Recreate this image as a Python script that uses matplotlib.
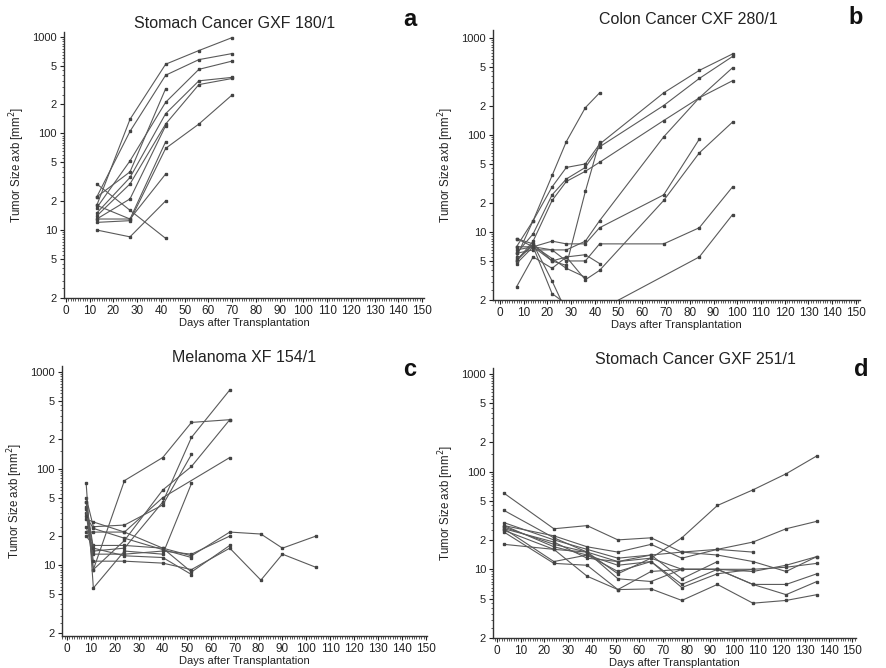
import numpy as np
import matplotlib
matplotlib.use("Agg")
import matplotlib.pyplot as plt
from matplotlib.ticker import FixedLocator, MultipleLocator, LogLocator, NullFormatter

plt.rcParams['font.family'] = ['Liberation Sans', 'DejaVu Sans']

nan = np.nan

# panel a: Stomach Cancer GXF 180/1
a_days = [13, 27, 42, 56, 70]
a_series = [
    [18, 140, 520, 720, 980],
    [22, 105, 400, 580, 670],
    [30, 16, 8.2, nan, nan],
    [22, 40, 290, nan, nan],
    [17, 52, 210, 460, 560],
    [15, 35, 160, 350, 380],
    [14, 30, 125, 320, 370],
    [13, 21, 120, nan, nan],
    [13, 13, 82, nan, nan],
    [12, 12.5, 70, 125, 250],
    [10, 8.5, 20, nan, nan],
    [18, 13, 38, nan, nan],
]

# panel b: Colon Cancer CXF 280/1
b_days = [7, 14, 22, 28, 36, 42, 69, 84, 98]
b_series = [
    [5.5, 13, 38, 85, 190, 270, nan, nan, nan],
    [7, 13, 29, 46, 50, 80, 270, 460, 680],
    [6, 9.5, 24, 35, 46, 75, 200, 380, 640],
    [5, 8, 21, 33, 42, 52, 140, 240, 360],
    [6.5, 7, 5, 4.5, 26, 85, nan, nan, nan],
    [8.5, 7, 6.5, 6.5, 8, 13, 95, 240, 490],
    [7, 7, 8, 7.5, 7.5, 11, 24, 90, nan],
    [5, 7.5, 5, 5.5, 3.2, 4, 21, 65, 135],
    [6, 6.5, 6.5, 5, 5, 7.5, 7.5, 11, 29],
    [2.7, 5.5, 4.2, 5.5, 5.8, 4.7, nan, nan, nan],
    [8.5, 7.5, 3.1, 1.5, nan, nan, nan, nan, nan],
    [4.7, 7, 2.3, nan, 1.3, nan, nan, 5.5, 15],
    [5.2, 7.2, 5.3, 4.2, 3.4, nan, nan, nan, nan],
]

# panel c: Melanoma XF 154/1
c_days = [8, 11, 24, 40, 52, 68, 81, 90, 104]
c_series = [
    [45, 9, 75, 130, 300, 320, nan, nan, nan],
    [40, 14, 15, 45, 210, 650, nan, nan, nan],
    [35, 9, 18, 60, 105, 320, nan, nan, nan],
    [50, 25, 26, 42, 140, nan, nan, nan, nan],
    [30, 28, 22, 50, nan, 130, nan, nan, nan],
    [70, 5.8, 14, 13, 70, nan, nan, nan, nan],
    [22, 22, 22, 15, 12.5, 22, 21, 15, 20],
    [20, 16, 16, 15, 8.5, 16, nan, nan, nan],
    [25, 13, 13, 14, 13, 20, nan, nan, nan],
    [38, 11, 11, 10.5, 9, 15, 7, 13, 9.5],
    [32, 24, 19, 14.5, 12, nan, nan, nan, nan],
    [45, 15, 12.5, 12, 8, nan, nan, nan, nan],
]

# panel d: Stomach Cancer GXF 251/1
d_days = [3, 24, 38, 51, 65, 78, 93, 108, 122, 135]
d_series = [
    [60, 26, 28, 20, 21, 15, 16, 15, nan, nan],
    [40, 21, 15, 12, 13, 21, 45, 65, 95, 145],
    [28, 22, 17, 15, 18, 13, 16, 19, 26, 31],
    [30, 20, 16, 13, 14, 15, 14, 12, 9.5, 13.5],
    [27, 18, 15, 9, 13, 10, 10, 10, 10.5, 11.5],
    [25, 16, 15, 8, 7.5, 10, 10, 9.5, 11, 13.5],
    [26, 12, 14, 11, 12, 7, 10, 7, 7, 9],
    [24, 11.5, 11, 6.2, 9.5, 10, 10, 7, 5.5, 7.5],
    [18, 16, 8.5, 6.2, 6.3, 4.8, 7, 4.5, 4.8, 5.5],
    [28, 17, 14, 9.5, 12, 6.5, 9, 10, nan, nan],
    [26, 19, 13, 12, 14, 8, 12, nan, nan, nan],
]

titles = ["Stomach Cancer GXF 180/1", "Colon Cancer CXF 280/1",
          "Melanoma XF 154/1", "Stomach Cancer GXF 251/1"]
letters = ["a", "b", "c", "d"]
y_ticks = [2, 5, 10, 20, 50, 100, 200, 500, 1000]
y_ticklabels = ["2", "5", "10", "2", "5", "100", "2", "5", "1000"]

W, H = 887, 668
fig = plt.figure(figsize=(W / 100, H / 100), dpi=100)

def px_axes(left, right, bottom, top):
    return fig.add_axes([left / W, 1 - bottom / H, (right - left) / W, (bottom - top) / H])

# pixel boxes of each panel and x-limits so that 0..150 line up with the scan
boxes = [(64, 424, 298, 32), (493, 860, 300, 30), (62, 427, 636, 366), (493, 856, 638, 368)]
xlims = [(-0.8, 150.8), (-2.9, 151.7), (-2.1, 150.4), (-1.7, 151.5)]
ylims = [(1.98, 1120), (1.98, 1200), (1.85, 1150), (1.98, 1150)]
title_pos = [(235, 23), (688, 20), (244, 357), (695, 359)]
letter_pos = [(410, 20), (856, 18), (410, 369), (861, 369)]

panels = [(a_days, a_series), (b_days, b_series), (c_days, c_series), (d_days, d_series)]

for i, (days, series) in enumerate(panels):
    ax = px_axes(*boxes[i])
    days = np.array(days, dtype=float)
    for s in series:
        s = np.array(s, dtype=float)
        ok = np.isfinite(s)
        ax.plot(days[ok], s[ok], color='#5a5a5a', lw=0.8, marker='s', ms=2.0,
                mfc='#444444', mec='#444444', clip_on=True)
    ax.set_yscale('log')
    ax.set_xlim(*xlims[i])
    ax.set_ylim(*ylims[i])
    ax.yaxis.set_major_locator(FixedLocator(y_ticks))
    ax.set_yticklabels(y_ticklabels)
    ax.yaxis.set_minor_locator(LogLocator(base=10, subs=np.arange(1, 10, 0.5)))
    ax.yaxis.set_minor_formatter(NullFormatter())
    ax.set_xticks(np.arange(0, 151, 10))
    ax.xaxis.set_minor_locator(MultipleLocator(1))
    ax.tick_params(axis='y', which='major', labelsize=8, length=3, width=0.8, pad=2, colors='#222222')
    ax.tick_params(axis='x', which='major', labelsize=8.5, length=3, width=0.8, pad=2, colors='#222222')
    ax.tick_params(axis='both', which='minor', length=1.8, width=0.6, colors='#444444')
    for side in ['top', 'right']:
        ax.spines[side].set_visible(False)
    for side in ['left', 'bottom']:
        ax.spines[side].set_color('#333333')
        ax.spines[side].set_linewidth(1.0)
    ax.set_xlabel("Days after Transplantation", fontsize=8, labelpad=1, color='#222222')
    ax.set_ylabel("Tumor Size axb [mm$^2$]", fontsize=8.3, labelpad=4, color='#222222')
    ax.patch.set_alpha(0)
    fig.text(title_pos[i][0] / W, 1 - title_pos[i][1] / H, titles[i], fontsize=11.5,
             ha='center', va='center', color='#222222')
    fig.text(letter_pos[i][0] / W, 1 - letter_pos[i][1] / H, letters[i], fontsize=17,
             fontweight='bold', ha='center', va='center', color='#111111')

fig.savefig("out.png", dpi=100, facecolor='white')
